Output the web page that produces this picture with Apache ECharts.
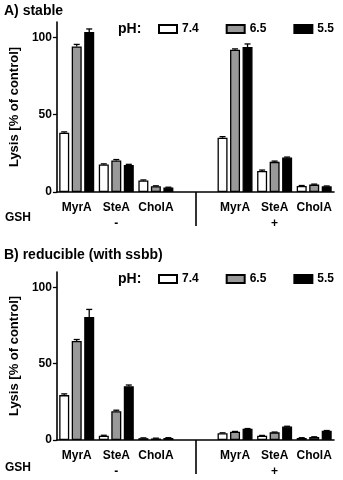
<!DOCTYPE html>
<html>
<head>
    <meta charset="utf-8">
    <title>Lysis</title>
    <script src="https://cdn.jsdelivr.net/npm/echarts@6/dist/echarts.min.js"></script>
    <style>
        html, body { margin: 0; padding: 0; background: #fff; }
    </style>
</head>
<body>
<div id="main" style="width: 343px; height: 480px;"></div>

<script type="text/javascript">
    // categories: 4th slot is the empty gap between GSH - and GSH +
    var categories = ['MyrA', 'SteA', 'CholA', '', 'MyrA', 'SteA', 'CholA'];
    var gshLabels = ['', '-', '', '', '', '+', ''];
    var phNames = ['7.4', '6.5', '5.5'];
    var yTicks = [0, 50, 100];

    // A) stable
    var stable74 = [38.3, 17.8, 7.4, null, 35.1, 13.6, 3.9];
    var stable65 = [94.2, 20.4, 3.7, null, 92.0, 19.5, 4.8];
    var stable55 = [103.5, 17.5, 2.9, null, 93.8, 22.3, 3.7];
    var stableErr74 = [0.6, 0.4, 0.4, null, 0.7, 0.6, 0.3];
    var stableErr65 = [1.3, 0.6, 0.3, null, 0.6, 0.5, 0.3];
    var stableErr55 = [2.0, 0.4, 0.2, null, 2.0, 0.3, 0.2];

    // B) reducible (with ssbb)
    var reducible74 = [29.4, 2.8, 1.2, null, 4.5, 2.8, 1.3];
    var reducible65 = [64.8, 18.9, 1.0, null, 5.4, 5.0, 1.9];
    var reducible55 = [80.5, 35.2, 1.3, null, 7.3, 8.8, 6.0];
    var reducibleErr74 = [0.8, 0.3, 0.2, null, 0.2, 0.2, 0.2];
    var reducibleErr65 = [1.0, 0.6, 0.2, null, 0.2, 0.2, 0.2];
    var reducibleErr55 = [5.0, 0.8, 0.2, null, 0.2, 0.2, 0.2];

    var colors = ['#ffffff', '#999999', '#000000'];
    var font = 'Liberation Sans, Arial, sans-serif';
    var BAR_W = 10;
    var BAR_GAP = 2.5;

    var myChart = echarts.init(document.getElementById('main'));

    function barSeries(name, data, k, gi) {
        return {
            name: name,
            type: 'bar',
            xAxisIndex: gi * 2,
            yAxisIndex: gi,
            data: data,
            barWidth: BAR_W,
            barGap: '25%',
            itemStyle: { color: colors[k], borderColor: '#000', borderWidth: 1.3 },
            emphasis: { disabled: true },
            z: 2
        };
    }

    function errSeries(vals, errs, k, gi) {
        var d = [];
        for (var i = 0; i < vals.length; i++) {
            if (vals[i] != null) d.push([i, vals[i], errs[i]]);
        }
        var offset = (k - 1) * (BAR_W + BAR_GAP);
        return {
            type: 'custom',
            xAxisIndex: gi * 2,
            yAxisIndex: gi,
            data: d,
            z: 1,
            silent: true,
            renderItem: function (params, api) {
                var p0 = api.coord([api.value(0), api.value(1)]);
                var p1 = api.coord([api.value(0), api.value(1) + api.value(2)]);
                var x = p0[0] + offset;
                var st = { stroke: '#000', lineWidth: 1.3 };
                return {
                    type: 'group',
                    children: [
                        { type: 'line', shape: { x1: x, y1: p0[1], x2: x, y2: p1[1] }, style: st },
                        { type: 'line', shape: { x1: x - 3, y1: p1[1], x2: x + 3, y2: p1[1] }, style: st }
                    ]
                };
            }
        };
    }

    function xAxes(gi) {
        return [{
            type: 'category',
            gridIndex: gi,
            position: 'bottom',
            data: categories,
            axisLine: { lineStyle: { color: '#000', width: 1.6 } },
            axisTick: { alignWithLabel: true, length: 4, lineStyle: { color: '#000', width: 1.3 } },
            axisLabel: {
                interval: 0,
                margin: 8,
                color: '#000',
                fontFamily: font,
                fontWeight: 'bold',
                fontSize: 12,
                lineHeight: 16,
                formatter: function (v, i) {
                    return gshLabels[i] ? v + '\n' + gshLabels[i] : v;
                }
            }
        }, {
            // long divider tick between the two GSH groups
            type: 'category',
            gridIndex: gi,
            position: 'bottom',
            data: categories,
            axisLine: { show: false },
            axisLabel: { show: false },
            axisTick: {
                show: true,
                alignWithLabel: true,
                length: 34,
                interval: function (i) { return i === 3; },
                lineStyle: { color: '#000', width: 1.6 }
            }
        }];
    }

    function yAxis(gi) {
        return {
            type: 'value',
            gridIndex: gi,
            min: 0,
            max: 110,
            interval: 50,
            name: 'Lysis [% of control]',
            nameLocation: 'middle',
            nameGap: 31,
            nameTextStyle: { color: '#000', fontFamily: font, fontWeight: 'bold', fontSize: 13 },
            splitLine: { show: false },
            axisLine: { show: true, lineStyle: { color: '#000', width: 1.6 } },
            axisTick: { show: true, length: 4, customValues: yTicks, lineStyle: { color: '#000', width: 1.3 } },
            axisLabel: { color: '#000', fontFamily: font, fontWeight: 'bold', fontSize: 12, margin: 5, customValues: yTicks }
        };
    }

    function legend(top) {
        return {
            top: top,
            left: 153,
            icon: 'rect',
            itemWidth: 18,
            itemHeight: 8,
            itemGap: 27,
            selectedMode: false,
            data: phNames,
            textStyle: { color: '#000', fontFamily: font, fontWeight: 'bold', fontSize: 12 }
        };
    }

    function txt(x, y, s, size) {
        return {
            type: 'text', left: x, top: y,
            style: { text: s, fill: '#000', font: 'bold ' + size + 'px ' + font }
        };
    }

    var series = [
        barSeries(phNames[0], stable74, 0, 0),
        barSeries(phNames[1], stable65, 1, 0),
        barSeries(phNames[2], stable55, 2, 0),
        errSeries(stable74, stableErr74, 0, 0),
        errSeries(stable65, stableErr65, 1, 0),
        errSeries(stable55, stableErr55, 2, 0),
        barSeries(phNames[0], reducible74, 0, 1),
        barSeries(phNames[1], reducible65, 1, 1),
        barSeries(phNames[2], reducible55, 2, 1),
        errSeries(reducible74, reducibleErr74, 0, 1),
        errSeries(reducible65, reducibleErr65, 1, 1),
        errSeries(reducible55, reducibleErr55, 2, 1)
    ];

    myChart.setOption({
        animation: false,
        grid: [
            { left: 40, top: 22, width: 294, height: 170 },
            { left: 40, top: 272, width: 294, height: 170 }
        ],
        legend: [legend(18), legend(268)],
        xAxis: xAxes(0).concat(xAxes(1)),
        yAxis: [yAxis(0), yAxis(1)],
        graphic: [
            txt(4, 4, 'A) stable', 14),
            txt(4, 248, 'B) reducible (with ssbb)', 14),
            txt(118, 22, 'pH:', 14),
            txt(118, 272, 'pH:', 14),
            txt(5, 212, 'GSH', 12),
            txt(5, 462, 'GSH', 12)
        ],
        series: series
    });
</script>
</body>
</html>
